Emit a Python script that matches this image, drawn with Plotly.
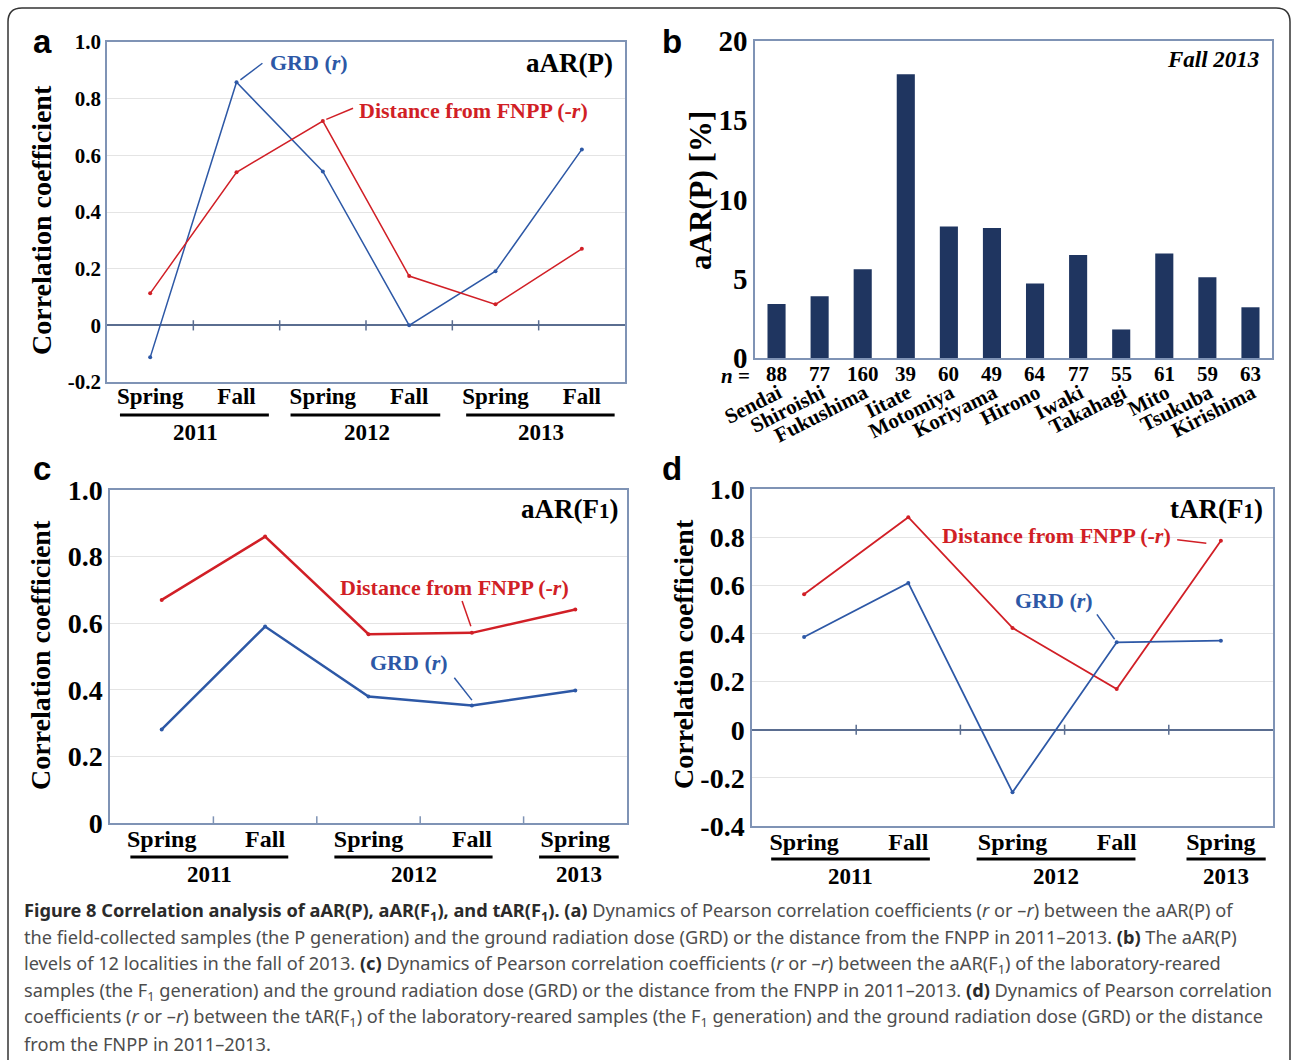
import plotly.graph_objects as go

W, H = 1292, 1060
def px(x):
    return x / W
def py(y):
    return 1 - y / H

SERIF = "Liberation Serif"
SANS = "Liberation Sans"
RED = "#d11f26"
BLUE = "#2d58a6"
NAVY = "#1f3560"
FRAME = "#7f93b5"
ZERO = "#5a6d90"
GRID = "#e4e4e4"

# ---------------- data ----------------
seasons_a = ["Spring", "Fall", "Spring", "Fall", "Spring", "Fall"]
years_a = ["2011", "2012", "2013"]
grd_a = [-0.113, 0.858, 0.543, 0.0, 0.191, 0.621]
dist_a = [0.113, 0.54, 0.721, 0.174, 0.074, 0.27]

localities = ["Sendai", "Shiroishi", "Fukushima", "Iitate", "Motomiya", "Koriyama",
              "Hirono", "Iwaki", "Takahagi", "Mito", "Tsukuba", "Kirishima"]
n_samples = [88, 77, 160, 39, 60, 49, 64, 77, 55, 61, 59, 63]
aar_p = [3.4, 3.9, 5.6, 17.9, 8.3, 8.2, 4.7, 6.5, 1.8, 6.6, 5.1, 3.2]

seasons_cd = ["Spring", "Fall", "Spring", "Fall", "Spring"]
years_cd = ["2011", "2012", "2013"]
grd_c = [0.281, 0.59, 0.38, 0.353, 0.398]
dist_c = [0.67, 0.86, 0.567, 0.571, 0.641]
grd_d = [0.385, 0.61, -0.26, 0.363, 0.37]
dist_d = [0.563, 0.883, 0.423, 0.169, 0.785]

ticks_a = [-0.2, 0, 0.2, 0.4, 0.6, 0.8, 1.0]
ticks_b = [0, 5, 10, 15, 20]
ticks_c = [0, 0.2, 0.4, 0.6, 0.8, 1.0]
ticks_d = [-0.4, -0.2, 0, 0.2, 0.4, 0.6, 0.8, 1.0]

def lab(v):
    if v == 0:
        return "0"
    return f"{v:.1f}"

fig = go.Figure()

def line_trace(y, color, xa, ya, width, msize):
    return go.Scatter(x=list(range(len(y))), y=y, mode="lines+markers",
                      line=dict(color=color, width=width),
                      marker=dict(color=color, size=msize),
                      xaxis=xa, yaxis=ya, showlegend=False, hoverinfo="skip")

# panel a
fig.add_trace(line_trace(grd_a, BLUE, "x", "y", 1.5, 4))
fig.add_trace(line_trace(dist_a, RED, "x", "y", 1.5, 4))
# panel b
fig.add_trace(go.Bar(x=list(range(len(aar_p))), y=aar_p, marker=dict(color=NAVY, line=dict(width=0)),
                     width=0.42, xaxis="x2", yaxis="y2", showlegend=False, hoverinfo="skip"))
# panel c
fig.add_trace(line_trace(dist_c, RED, "x3", "y3", 2.5, 4))
fig.add_trace(line_trace(grd_c, BLUE, "x3", "y3", 2.5, 4))
# panel d
fig.add_trace(line_trace(dist_d, RED, "x4", "y4", 1.8, 4))
fig.add_trace(line_trace(grd_d, BLUE, "x4", "y4", 1.8, 4))

frame = dict(showline=True, linecolor=FRAME, linewidth=1.5, mirror=True, automargin=False)
bold = lambda s, c="black": dict(family=SERIF, size=s, color=c, weight="bold")

def xcat(domain, n, texts, size):
    return dict(domain=domain, range=[-0.5, n - 0.5], tickmode="array",
                tickvals=list(range(n)), ticktext=texts, ticks="", showgrid=False,
                zeroline=False, tickfont=bold(size), ticklabelstandoff=-7,
                fixedrange=True, **frame)

def ynum(domain, rng, tv, size, zero):
    return dict(domain=domain, range=rng, tickmode="array", tickvals=tv,
                ticktext=[lab(v) for v in tv], ticks="", showgrid=True, gridcolor=GRID,
                gridwidth=1.2, zeroline=zero, zerolinecolor=ZERO, zerolinewidth=2,
                tickfont=bold(size), fixedrange=True, **frame)

layout = dict(
    width=W, height=H, margin=dict(l=0, r=0, t=0, b=0, pad=0, autoexpand=False),
    paper_bgcolor="white", plot_bgcolor="white",
    xaxis=xcat([px(107), px(625)], 6, seasons_a, 23),
    yaxis=ynum([py(382), py(42)], [-0.2, 1.0], ticks_a, 21, True),
    xaxis3=xcat([px(110), px(627)], 5, seasons_cd, 24),
    yaxis3=ynum([py(823), py(490)], [0, 1.0], ticks_c, 28, False),
    xaxis4=xcat([px(752), px(1273)], 5, seasons_cd, 24),
    yaxis4=ynum([py(826), py(489)], [-0.4, 1.0], ticks_d, 28, True),
)
layout["xaxis"]["anchor"] = "y"
layout["yaxis"]["anchor"] = "x"
layout["xaxis3"]["anchor"] = "y3"
layout["yaxis3"]["anchor"] = "x3"
layout["xaxis4"]["anchor"] = "y4"
layout["yaxis4"]["anchor"] = "x4"
layout["xaxis2"] = dict(domain=[px(755), px(1272)], range=[-0.5, len(localities) - 0.5],
                        tickmode="array", tickvals=list(range(len(localities))),
                        ticktext=localities, tickangle=-27, ticks="", showgrid=False,
                        zeroline=False, tickfont=bold(21), ticklabelstandoff=13,
                        ticklabelshift=2, anchor="y2", fixedrange=True, **frame)
layout["yaxis2"] = dict(domain=[py(358), py(41)], range=[0, 20], tickmode="array",
                        tickvals=ticks_b, ticktext=[str(v) for v in ticks_b], ticks="",
                        showgrid=False, zeroline=False, tickfont=bold(29), anchor="x2",
                        fixedrange=True, **frame)
fig.update_layout(**layout)

ann = []
shapes = []

def text(x, y, s, font, xref="paper", yref="paper", xa="center", ya="middle", angle=0):
    ann.append(dict(x=x, y=y, text=s, font=font, xref=xref, yref=yref, xanchor=xa,
                    yanchor=ya, showarrow=False, textangle=angle))

def seg(x0, y0, x1, y1, color, width, xref="paper", yref="paper"):
    shapes.append(dict(type="line", x0=x0, y0=y0, x1=x1, y1=y1, xref=xref, yref=yref,
                       line=dict(color=color, width=width), layer="above"))

# panel letters
letter = dict(family=SANS, size=33, color="black", weight="bold")
text(px(42), py(42), "a", letter)
text(px(672), py(42), "b", letter)
text(px(42), py(469), "c", letter)
text(px(672), py(468), "d", letter)

# y titles
text(px(42), py(220), "Correlation coefficient", bold(28), angle=-90)
text(px(40), py(655), "Correlation coefficient", bold(28), angle=-90)
text(px(683), py(654), "Correlation coefficient", bold(28), angle=-90)
text(px(700), py(191), "aAR(P) [%]", bold(31), angle=-90)

# panel headings
text(px(615), py(63), "aAR(P)", bold(27), xa="right")
text(px(620), py(509), "aAR(F<span style='font-size:21px'>1</span>)", bold(27), xa="right")
text(px(1265), py(509), "tAR(F<span style='font-size:21px'>1</span>)", bold(27), xa="right")
text(px(1261), py(60), "<i>Fall 2013</i>", bold(23), xa="right")

# series labels + leader lines
LF = 22
text(1.36, 0.927, "GRD (<i>r</i>)", bold(LF, BLUE), "x", "y", xa="left")
seg(1.045, 0.866, 1.30, 0.925, BLUE, 1.5, "x", "y")
text(2.39, 0.76, "Distance from FNPP (-<i>r</i>)", bold(LF, RED), "x", "y", xa="left")
seg(2.04, 0.727, 2.35, 0.766, RED, 1.5, "x", "y")

text(2.83, 0.707, "Distance from FNPP (-<i>r</i>)", bold(LF, RED), "x3", "y3")
seg(2.905, 0.667, 2.99, 0.591, RED, 1.5, "x3", "y3")
text(2.39, 0.482, "GRD (<i>r</i>)", bold(LF, BLUE), "x3", "y3")
seg(2.83, 0.436, 3.0, 0.369, BLUE, 1.5, "x3", "y3")

text(2.42, 0.806, "Distance from FNPP (-<i>r</i>)", bold(LF, RED), "x4", "y4")
seg(3.58, 0.789, 3.86, 0.775, RED, 1.5, "x4", "y4")
text(2.40, 0.535, "GRD (<i>r</i>)", bold(LF, BLUE), "x4", "y4")
seg(2.81, 0.479, 2.98, 0.376, BLUE, 1.5, "x4", "y4")

# boundary ticks on zero line / bottom axis
for b in [0.5, 1.5, 2.5, 3.5, 4.5]:
    seg(b, -0.018, b, 0.018, ZERO, 1.5, "x", "y")
for b in [0.5, 1.5, 2.5, 3.5]:
    seg(b, -0.021, b, 0.021, ZERO, 1.5, "x4", "y4")
    seg(b, 0.0, b, 0.02, FRAME, 1.5, "x3", "y3")

# year groups: underline + label
def years(xref, spans, centers, yline, ytext, labels):
    for (a, b), c, lbl in zip(spans, centers, labels):
        seg(a, py(yline), b, py(yline), "black", 3, xref, "paper")
        text(c, py(ytext), lbl, bold(23), xref, "paper")

years("x", [(-0.35, 1.375), (1.626, 3.36), (3.66, 5.38)], [0.525, 2.51, 4.53], 415, 432, years_a)
years("x3", [(-0.303, 1.224), (1.67, 3.2), (3.65, 4.42)], [0.465, 2.44, 4.04], 857, 874, years_cd)
years("x4", [(-0.316, 1.207), (1.656, 3.18), (3.67, 4.43)], [0.445, 2.42, 4.05], 859, 876, years_cd)

# n row
text(px(752), py(376), "<i>n</i> =", bold(21), xa="right")
for i, n in enumerate(n_samples):
    text(i, py(374), str(n), bold(21), "x2", "paper")

# caption
cap_font = dict(family="Noto Sans", size=18.2, color="#4d4d4d")
B = "<span style='color:#2b2b2b'><b>"
E = "</b></span>"
F1 = "F<sub>1</sub>"
caption = [
    f"{B}Figure 8 Correlation analysis of aAR(P), aAR({F1}), and tAR({F1}). (a){E} Dynamics of Pearson correlation coefficients (<i>r</i> or –<i>r</i>) between the aAR(P) of",
    f"the field-collected samples (the P generation) and the ground radiation dose (GRD) or the distance from the FNPP in 2011–2013. {B}(b){E} The aAR(P)",
    f"levels of 12 localities in the fall of 2013. {B}(c){E} Dynamics of Pearson correlation coefficients (<i>r</i> or –<i>r</i>) between the aAR({F1}) of the laboratory-reared",
    f"samples (the {F1} generation) and the ground radiation dose (GRD) or the distance from the FNPP in 2011–2013. {B}(d){E} Dynamics of Pearson correlation",
    f"coefficients (<i>r</i> or –<i>r</i>) between the tAR({F1}) of the laboratory-reared samples (the {F1} generation) and the ground radiation dose (GRD) or the distance",
    "from the FNPP in 2011–2013.",
]
cap_y = [911, 937, 964, 991, 1017, 1044]
for s, yy in zip(caption, cap_y):
    text(px(22), py(yy), s, cap_font, xa="left")

# outer rounded frame
shapes.append(dict(type="path", xref="paper", yref="paper",
                   path=f"M {px(8)},{py(1060)} L {px(8)},{py(22)} Q {px(8)},{py(8)} {px(22)},{py(8)} "
                        f"L {px(1276)},{py(8)} Q {px(1290)},{py(8)} {px(1290)},{py(22)} L {px(1290)},{py(1060)}",
                   line=dict(color="#333333", width=1.5), layer="above"))

fig.update_layout(annotations=ann, shapes=shapes)
fig.write_html("out.html")
